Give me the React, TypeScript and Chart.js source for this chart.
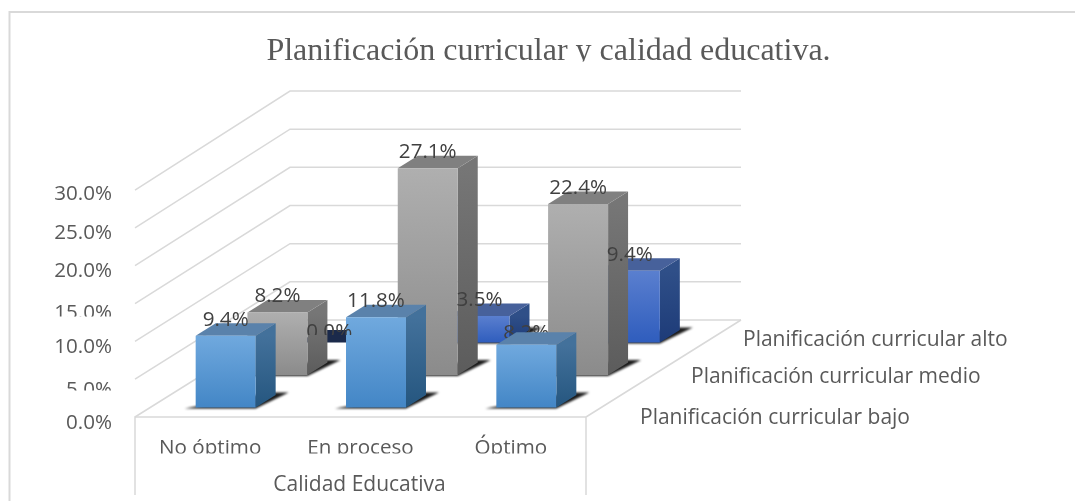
import React, { useEffect, useRef } from "react";
import { Chart, registerables } from "chart.js";

Chart.register(...registerables);

const categories = ["No óptimo", "En proceso", "Óptimo"];
const seriesNames = [
  "Planificación curricular bajo",
  "Planificación curricular medio",
  "Planificación curricular alto",
];
const bajo = [9.4, 11.8, 8.2];
const medio = [8.2, 27.1, 22.4];
const alto = [0.0, 3.5, 9.4];
const titleText = "Planificación curricular y calidad educativa.";
const axisTitleText = "Calidad Educativa";

const W = 1075;
const H = 501;
const AREA = { left: 135, right: 586, top: 188, bottom: 417 };
const SANS = "'Open Sans'";
const SANS_SIZE = 20.6;
const NAME_SIZE = 21;
const TEXT = "#595959";
const LABEL = "#404040";
const GRID = "#d9d9d9";
const FLOOR_DEPTH = { x: 155, y: -97 };
const BAR_DEPTH = { x: 20, y: -12.5 };
const ROW_STEP = { x: 51.75, y: -32.4 };
const ROW_START = { x: 15.5, y: -9.6 };

const palettes = [
  { front: ["#70a9de", "#4386c6"], side: ["#43719b", "#25567f"], top: "#5a82ab" },
  { front: ["#afafaf", "#8b8b8b"], side: ["#767676", "#5c5c5c"], top: "#808080" },
  { front: ["#5a7fcf", "#2f5dbd"], side: ["#2f4f88", "#1d3b78"], top: "#47619b" },
];
const ZERO_TOP = "#1b2a4b";

// Labels the reference shows partly hidden: "series:category"
const labelTweaks: Record<string, { dy: number; behind?: boolean; clipBottom?: number }> = {
  "0:2": { dy: 4, behind: true },
  "2:0": { dy: 6, clipBottom: 335 },
};
// Tick labels the reference shows pushed down and cut off
const droppedTicks = [5, 15];

const rowOffset = (i: number) => ({
  x: ROW_START.x + ROW_STEP.x * i,
  y: ROW_START.y + ROW_STEP.y * i,
});

function poly(ctx: CanvasRenderingContext2D, pts: number[][], fill: string | CanvasGradient) {
  ctx.beginPath();
  pts.forEach(([x, y], i) => (i ? ctx.lineTo(x, y) : ctx.moveTo(x, y)));
  ctx.closePath();
  ctx.fillStyle = fill;
  ctx.fill();
}

function drawLabel(chart: any, ds: number, i: number) {
  const ctx: CanvasRenderingContext2D = chart.ctx;
  const bar = chart.getDatasetMeta(ds).data[i];
  const off = rowOffset(ds);
  const tw = labelTweaks[`${ds}:${i}`];
  const v = chart.data.datasets[ds].data[i];
  ctx.save();
  if (tw?.clipBottom) {
    ctx.beginPath();
    ctx.rect(0, 0, W, tw.clipBottom);
    ctx.clip();
  }
  ctx.font = `${SANS_SIZE}px ${SANS}`;
  ctx.fillStyle = LABEL;
  ctx.textAlign = "center";
  ctx.textBaseline = "middle";
  ctx.fillText(`${v.toFixed(1)}%`, bar.x + off.x, bar.y + off.y - 16 + (tw?.dy ?? 0));
  ctx.restore();
}

const scenePlugin = {
  id: "scene3d",
  beforeDraw(chart: any) {
    const y = chart.scales.y;
    const items = y.getLabelItems(chart.chartArea);
    items.forEach((item: any, i: number) => {
      if (!item._dropped && droppedTicks.includes(y.ticks[i].value)) {
        item.options.translation[1] += 4.5;
        item._dropped = true;
      }
    });
  },
  beforeDatasetsDraw(chart: any) {
    const ctx: CanvasRenderingContext2D = chart.ctx;
    const y = chart.scales.y;
    const a = chart.chartArea;
    ctx.save();
    // clipped text bands of the picture
    ctx.fillStyle = "#ffffff";
    ctx.fillRect(30, 316.5, 95, 14);
    ctx.fillRect(30, 390.5, 95, 14);
    ctx.fillRect(140, 453.5, 440, 12);
    // frame
    ctx.strokeStyle = GRID;
    ctx.lineWidth = 2;
    ctx.beginPath();
    ctx.moveTo(W, 12);
    ctx.lineTo(9.5, 12);
    ctx.lineTo(9.5, H);
    ctx.stroke();
    // walls
    ctx.lineWidth = 1.5;
    y.ticks.forEach((t: any) => {
      const py = y.getPixelForValue(t.value);
      const backX = a.left + FLOOR_DEPTH.x;
      const backY = py + FLOOR_DEPTH.y;
      const frontY = a.bottom - (a.bottom - py) * 0.991;
      ctx.beginPath();
      ctx.moveTo(a.left, frontY);
      ctx.lineTo(backX, backY);
      ctx.lineTo(a.right + FLOOR_DEPTH.x, backY);
      ctx.stroke();
    });
    // floor and front panel
    ctx.beginPath();
    ctx.moveTo(a.left, 495);
    ctx.lineTo(a.left, a.bottom);
    ctx.lineTo(a.right, a.bottom);
    ctx.lineTo(a.right, 495);
    ctx.moveTo(a.right, a.bottom);
    ctx.lineTo(a.right + FLOOR_DEPTH.x, a.bottom + FLOOR_DEPTH.y);
    ctx.stroke();
    // title, clipped just under the baseline as in the picture
    ctx.save();
    ctx.beginPath();
    ctx.rect(0, 20, W, 41.5);
    ctx.clip();
    ctx.font = "32px 'Liberation Serif'";
    ctx.fillStyle = TEXT;
    ctx.textAlign = "center";
    ctx.textBaseline = "alphabetic";
    ctx.fillText(titleText, 548.5, 60);
    ctx.restore();
    // depth axis labels and axis title
    ctx.font = `${NAME_SIZE}px ${SANS}`;
    ctx.fillStyle = TEXT;
    ctx.textAlign = "left";
    ctx.textBaseline = "middle";
    ctx.fillText(seriesNames[0], 640, 418);
    ctx.fillText(seriesNames[1], 691, 377);
    ctx.fillText(seriesNames[2], 743, 340);
    ctx.textAlign = "center";
    ctx.fillText(axisTitleText, 359.5, 485);
    ctx.restore();
  },
  beforeDatasetDraw(chart: any, args: any) {
    const ctx: CanvasRenderingContext2D = chart.ctx;
    const ds = args.index;
    const off = rowOffset(ds);
    const pal = palettes[ds];
    ctx.save();
    ctx.translate(off.x, off.y);
    args.meta.data.forEach((bar: any, i: number) => {
      const v = chart.data.datasets[ds].data[i];
      const L = bar.x - bar.width / 2;
      const R = bar.x + bar.width / 2;
      const T = bar.y;
      const B = bar.base;
      const dx = BAR_DEPTH.x;
      const dy = BAR_DEPTH.y;
      if (v > 0) {
        ctx.save();
        ctx.filter = "blur(1px)";
        poly(ctx, [[L - 11, B + 1], [R, B + 1], [R + 33, B - 15], [R + 14, B - 15]], "rgba(15,15,15,0.95)");
        ctx.restore();
        const g = ctx.createLinearGradient(0, T, 0, B);
        g.addColorStop(0, pal.side[0]);
        g.addColorStop(1, pal.side[1]);
        poly(ctx, [[R, T], [R + dx, T + dy], [R + dx, B + dy], [R, B]], g);
      }
      poly(ctx, [[L, T], [R, T], [R + dx, T + dy], [L + dx, T + dy]], v > 0 ? pal.top : ZERO_TOP);
    });
  },
  afterDatasetDraw(chart: any, args: any) {
    chart.ctx.restore();
    if (args.index === 1) {
      Object.entries(labelTweaks).forEach(([k, tw]) => {
        if (!tw.behind) return;
        const [ds, i] = k.split(":").map(Number);
        drawLabel(chart, ds, i);
      });
    }
  },
  afterDatasetsDraw(chart: any) {
    chart.data.datasets.forEach((d: any, ds: number) => {
      d.data.forEach((_: number, i: number) => {
        if (!labelTweaks[`${ds}:${i}`]?.behind) drawLabel(chart, ds, i);
      });
    });
  },
};

function faceGradient(ds: number) {
  return (c: any) => {
    const chart = c.chart;
    const v = c.raw;
    const y = chart.scales.y;
    const fallback = palettes[ds].front[0];
    if (v === undefined || !y) return fallback;
    const y0 = y.getPixelForValue(v);
    const y1 = y.getPixelForValue(0);
    if (!Number.isFinite(y0) || !Number.isFinite(y1)) return fallback;
    const g = chart.ctx.createLinearGradient(0, y0, 0, y1);
    g.addColorStop(0, palettes[ds].front[0]);
    g.addColorStop(1, palettes[ds].front[1]);
    return g;
  };
}

export default function App() {
  const ref = useRef<HTMLCanvasElement>(null);
  useEffect(() => {
    const chart = new Chart(ref.current as HTMLCanvasElement, {
      type: "bar",
      data: {
        labels: categories,
        datasets: [bajo, medio, alto].map((data, ds) => ({
          label: seriesNames[ds],
          data,
          backgroundColor: faceGradient(ds),
          borderWidth: 0,
          grouped: false,
          barPercentage: 0.399,
          categoryPercentage: 1,
          clip: false,
        })) as any,
      },
      options: {
        responsive: false,
        animation: false,
        layout: {
          padding: { left: 0, top: AREA.top, right: W - AREA.right, bottom: 0 },
        },
        plugins: {
          legend: { display: false },
          title: { display: false },
          tooltip: { enabled: false },
        },
        scales: {
          x: {
            grid: { display: false, drawTicks: false },
            border: { display: false },
            ticks: {
              color: TEXT,
              font: { family: SANS, size: SANS_SIZE },
              padding: 19,
              maxRotation: 0,
              autoSkip: false,
            },
            afterFit: (s: any) => {
              s.height = H - AREA.bottom;
            },
          },
          y: {
            min: 0,
            max: 30,
            grid: { display: false, drawTicks: false },
            border: { display: false },
            ticks: {
              stepSize: 5,
              color: TEXT,
              font: { family: SANS, size: SANS_SIZE },
              padding: 23,
              labelOffset: 6.5,
              callback: (v: any) => `${Number(v).toFixed(1)}%`,
            },
            afterFit: (s: any) => {
              s.width = AREA.left;
            },
          },
        },
      },
      plugins: [scenePlugin],
    } as any);
    return () => chart.destroy();
  }, []);
  return (
    <div style={{ position: "absolute", left: 0, top: 0, width: W, height: H, background: "#fff" }}>
      <canvas ref={ref} width={W} height={H} style={{ display: "block" }} />
    </div>
  );
}
